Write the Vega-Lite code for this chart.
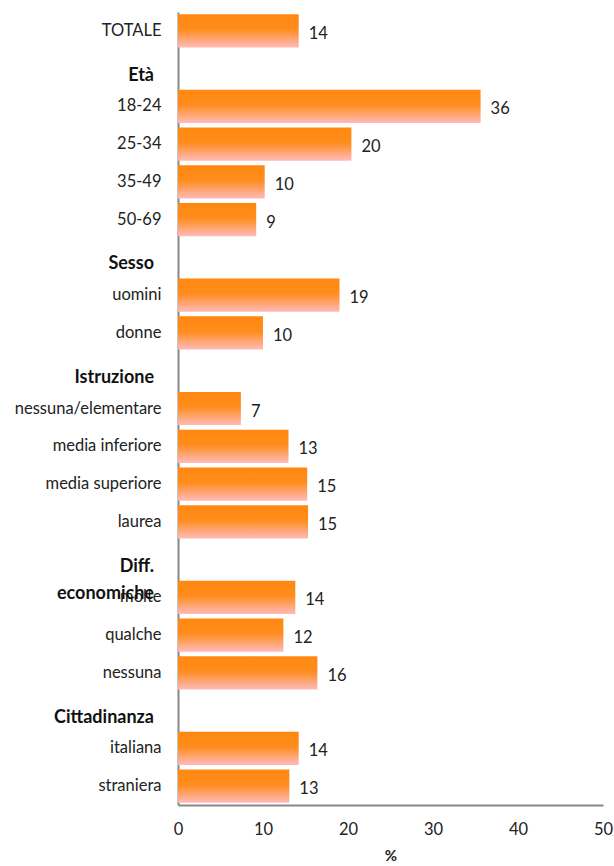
{
  "$schema": "https://vega.github.io/schema/vega-lite/v6.json",
  "width": 425,
  "height": 793,
  "autosize": {"type": "none"},
  "padding": {"left": 178, "top": 12, "right": 11, "bottom": 61},
  "background": "white",
  "config": {"view": {"stroke": null}, "font": "Lato"},
  "data": {
    "values": [
      {"cat": "TOTALE", "value": 14.2},
      {"cat": "Età"},
      {"cat": "18-24", "value": 35.6},
      {"cat": "25-34", "value": 20.4},
      {"cat": "35-49", "value": 10.2},
      {"cat": "50-69", "value": 9.2},
      {"cat": "Sesso"},
      {"cat": "uomini", "value": 19.0},
      {"cat": "donne", "value": 10.0},
      {"cat": "Istruzione"},
      {"cat": "nessuna/elementare", "value": 7.4},
      {"cat": "media inferiore", "value": 13.0},
      {"cat": "media superiore", "value": 15.2},
      {"cat": "laurea", "value": 15.3},
      {"cat": "Diff. economiche"},
      {"cat": "molte", "value": 13.8},
      {"cat": "qualche", "value": 12.4},
      {"cat": "nessuna", "value": 16.4},
      {"cat": "Cittadinanza"},
      {"cat": "italiana", "value": 14.2},
      {"cat": "straniera", "value": 13.1}
    ]
  },
  "encoding": {
    "y": {
      "field": "cat",
      "type": "nominal",
      "sort": null,
      "scale": {
        "domain": ["TOTALE", "Età", "18-24", "25-34", "35-49", "50-69", "Sesso", "uomini", "donne", "Istruzione", "nessuna/elementare", "media inferiore", "media superiore", "laurea", "Diff. economiche", "molte", "qualche", "nessuna", "Cittadinanza", "italiana", "straniera"],
        "paddingInner": 0.12,
        "paddingOuter": 0.06
      },
      "axis": {
        "title": null,
        "ticks": false,
        "domainColor": "#888888",
        "domainWidth": 2,
        "labelFontSize": 16.5,
        "labelColor": "#222222",
        "labelPadding": 17,
        "labelLimit": 300,
        "labelExpr": "indexof(['Età','Sesso','Istruzione','Diff. economiche','Cittadinanza'], datum.value) >= 0 ? '' : datum.label"
      }
    }
  },
  "layer": [
    {
      "transform": [{"filter": "datum.value != null"}],
      "mark": {
        "type": "bar",
        "color": {
          "gradient": "linear",
          "x1": 0, "y1": 0, "x2": 0, "y2": 1,
          "stops": [
            {"offset": 0, "color": "#FF8810"},
            {"offset": 0.45, "color": "#FF8C1C"},
            {"offset": 1, "color": "#FFBABA"}
          ]
        }
      },
      "encoding": {
        "x": {
          "field": "value",
          "type": "quantitative",
          "scale": {"domain": [0, 50]},
          "axis": {
            "title": "%",
            "titleFontWeight": "bold",
            "titleFontSize": 15,
            "titlePadding": 11,
            "titleColor": "#222222",
            "values": [0, 10, 20, 30, 40, 50],
            "grid": false,
            "ticks": false,
            "labelFlush": false,
            "domainColor": "#888888",
            "domainWidth": 2,
            "labelFontSize": 16.5,
            "labelColor": "#222222",
            "labelPadding": 16
          }
        }
      }
    },
    {
      "transform": [{"filter": "datum.value != null"}],
      "mark": {"type": "text", "align": "left", "dx": 10, "dy": 3, "fontSize": 16.5, "color": "#222222"},
      "encoding": {
        "x": {"field": "value", "type": "quantitative"},
        "text": {"field": "value", "type": "quantitative", "format": ".0f"}
      }
    },
    {
      "transform": [{"filter": "datum.value == null"}],
      "mark": {"type": "text", "align": "right", "dx": -24, "dy": 7, "fontSize": 18, "fontWeight": "bold", "color": "#111111", "lineBreak": " ", "lineHeight": 27},
      "encoding": {
        "x": {"datum": 0, "type": "quantitative"},
        "text": {"field": "cat", "type": "nominal"}
      }
    }
  ]
}
